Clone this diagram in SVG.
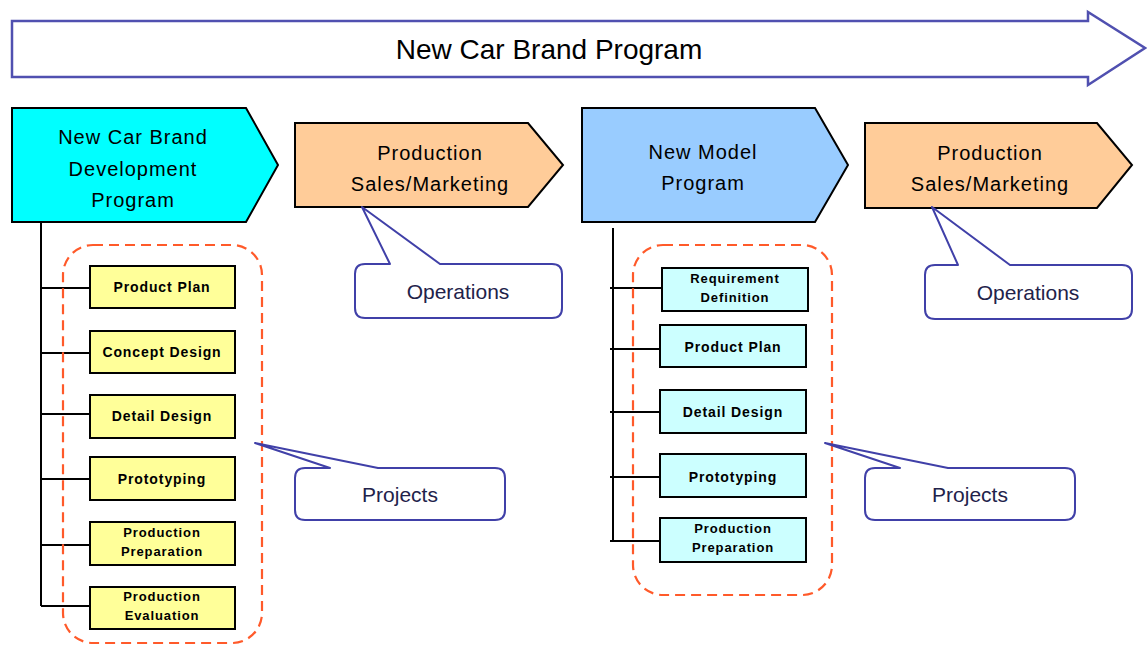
<svg xmlns="http://www.w3.org/2000/svg" width="1147" height="645" viewBox="0 0 1147 645">
  <style>
    .stage { stroke: #000; stroke-width: 2; }
    .task { stroke: #000; stroke-width: 2; }
    .callout { fill: #fff; stroke: #4040a8; stroke-width: 2; stroke-linejoin: round; }
    .scope { fill: none; stroke: #ff5a2a; stroke-width: 2.2; stroke-dasharray: 10 6; }
    .tree { fill: none; stroke: #000; stroke-width: 2; }
    .t-title { font-family: "Liberation Sans", Arial, sans-serif; font-size: 28px; fill: #000; text-anchor: middle; }
    .t-stage { font-family: "Liberation Sans", Arial, sans-serif; font-size: 20px; letter-spacing: 1px; fill: #000; text-anchor: middle; }
    .t-task { font-family: "Liberation Sans", Arial, sans-serif; font-size: 14px; font-weight: bold; letter-spacing: 0.9px; fill: #000; text-anchor: middle; }
    .t-task2 { font-family: "Liberation Sans", Arial, sans-serif; font-size: 13px; font-weight: bold; letter-spacing: 0.9px; fill: #000; text-anchor: middle; }
    .t-call { font-family: "Liberation Sans", Arial, sans-serif; font-size: 21px; fill: #22224a; text-anchor: middle; }
  </style>

  <!-- overall program arrow -->
  <g id="program-arrow">
    <path d="M12,21 H1088 V12 L1145,48 L1088,85 V77 H12 Z" fill="#fff" stroke="#5050b0" stroke-width="2.5" stroke-linejoin="miter"/>
    <text class="t-title" x="549" y="59">New Car Brand Program</text>
  </g>

  <!-- tree connectors -->
  <g id="connectors">
    <path class="tree" d="M41,222 V606 M41,288 H90 M41,353 H90 M41,414 H90 M41,479 H90 M41,545 H90 M41,606 H90"/>
    <path class="tree" d="M613,228 V541 M610,288 H662 M610,349 H660 M610,412 H660 M610,477 H660 M610,541 H660"/>
  </g>

  <!-- stage nodes -->
  <g id="stage-brand-dev">
    <path class="stage" fill="#00ffff" d="M12,108 H246 L278,165 L246,222 H12 Z"/>
    <text class="t-stage" x="133" y="144">New Car Brand</text>
    <text class="t-stage" x="133" y="176">Development</text>
    <text class="t-stage" x="133" y="207">Program</text>
  </g>
  <g id="stage-ops-1">
    <path class="stage" fill="#ffcc99" d="M295,123 H528 L563,165 L528,207 H295 Z"/>
    <text class="t-stage" x="430" y="160">Production</text>
    <text class="t-stage" x="430" y="191">Sales/Marketing</text>
  </g>
  <g id="stage-new-model">
    <path class="stage" fill="#99ccff" d="M582,108 H815 L848,165 L815,222 H582 Z"/>
    <text class="t-stage" x="703" y="159">New Model</text>
    <text class="t-stage" x="703" y="190">Program</text>
  </g>
  <g id="stage-ops-2">
    <path class="stage" fill="#ffcc99" d="M865,123 H1097 L1132,165 L1097,208 H865 Z"/>
    <text class="t-stage" x="990" y="160">Production</text>
    <text class="t-stage" x="990" y="191">Sales/Marketing</text>
  </g>

  <!-- project scopes -->
  <g id="scope-brand">
    <rect class="scope" x="63" y="245" width="199" height="398" rx="30"/>
  </g>
  <g id="scope-model">
    <rect class="scope" x="633" y="245" width="199" height="350" rx="30"/>
  </g>

  <!-- brand development tasks -->
  <g id="brand-product-plan">
    <rect class="task" fill="#ffff99" x="90" y="266" width="145" height="42"/>
    <text class="t-task" x="162" y="292">Product Plan</text>
  </g>
  <g id="brand-concept-design">
    <rect class="task" fill="#ffff99" x="90" y="331" width="145" height="42"/>
    <text class="t-task" x="162" y="357">Concept Design</text>
  </g>
  <g id="brand-detail-design">
    <rect class="task" fill="#ffff99" x="90" y="395" width="145" height="43"/>
    <text class="t-task" x="162" y="421">Detail Design</text>
  </g>
  <g id="brand-prototyping">
    <rect class="task" fill="#ffff99" x="90" y="457" width="145" height="43"/>
    <text class="t-task" x="162" y="484">Prototyping</text>
  </g>
  <g id="brand-production-prep">
    <rect class="task" fill="#ffff99" x="90" y="522" width="145" height="43"/>
    <text class="t-task2" x="162" y="537">Production</text>
    <text class="t-task2" x="162" y="556">Preparation</text>
  </g>
  <g id="brand-production-eval">
    <rect class="task" fill="#ffff99" x="90" y="587" width="145" height="42"/>
    <text class="t-task2" x="162" y="601">Production</text>
    <text class="t-task2" x="162" y="620">Evaluation</text>
  </g>

  <!-- new model tasks -->
  <g id="model-requirement">
    <rect class="task" fill="#ccffff" x="662" y="268" width="146" height="43"/>
    <text class="t-task2" x="735" y="283">Requirement</text>
    <text class="t-task2" x="735" y="302">Definition</text>
  </g>
  <g id="model-product-plan">
    <rect class="task" fill="#ccffff" x="660" y="325" width="146" height="42"/>
    <text class="t-task" x="733" y="352">Product Plan</text>
  </g>
  <g id="model-detail-design">
    <rect class="task" fill="#ccffff" x="660" y="390" width="146" height="43"/>
    <text class="t-task" x="733" y="417">Detail Design</text>
  </g>
  <g id="model-prototyping">
    <rect class="task" fill="#ccffff" x="660" y="454" width="146" height="43"/>
    <text class="t-task" x="733" y="482">Prototyping</text>
  </g>
  <g id="model-production-prep">
    <rect class="task" fill="#ccffff" x="660" y="518" width="146" height="44"/>
    <text class="t-task2" x="733" y="533">Production</text>
    <text class="t-task2" x="733" y="552">Preparation</text>
  </g>

  <!-- callouts -->
  <g id="callout-operations-1">
    <path class="callout" d="M365,264 H390 L362,207 L440,264 H552 Q562,264 562,274 V308 Q562,318 552,318 H365 Q355,318 355,308 V274 Q355,264 365,264 Z"/>
    <text class="t-call" x="458" y="299">Operations</text>
  </g>
  <g id="callout-operations-2">
    <path class="callout" d="M935,265 H958 L932,207 L1010,265 H1122 Q1132,265 1132,275 V309 Q1132,319 1122,319 H935 Q925,319 925,309 V275 Q925,265 935,265 Z"/>
    <text class="t-call" x="1028" y="300">Operations</text>
  </g>
  <g id="callout-projects-1">
    <path class="callout" d="M305,468 H330 L255,443 L378,468 H495 Q505,468 505,478 V510 Q505,520 495,520 H305 Q295,520 295,510 V478 Q295,468 305,468 Z"/>
    <text class="t-call" x="400" y="502">Projects</text>
  </g>
  <g id="callout-projects-2">
    <path class="callout" d="M875,468 H900 L825,443 L948,468 H1065 Q1075,468 1075,478 V510 Q1075,520 1065,520 H875 Q865,520 865,510 V478 Q865,468 875,468 Z"/>
    <text class="t-call" x="970" y="502">Projects</text>
  </g>
</svg>
